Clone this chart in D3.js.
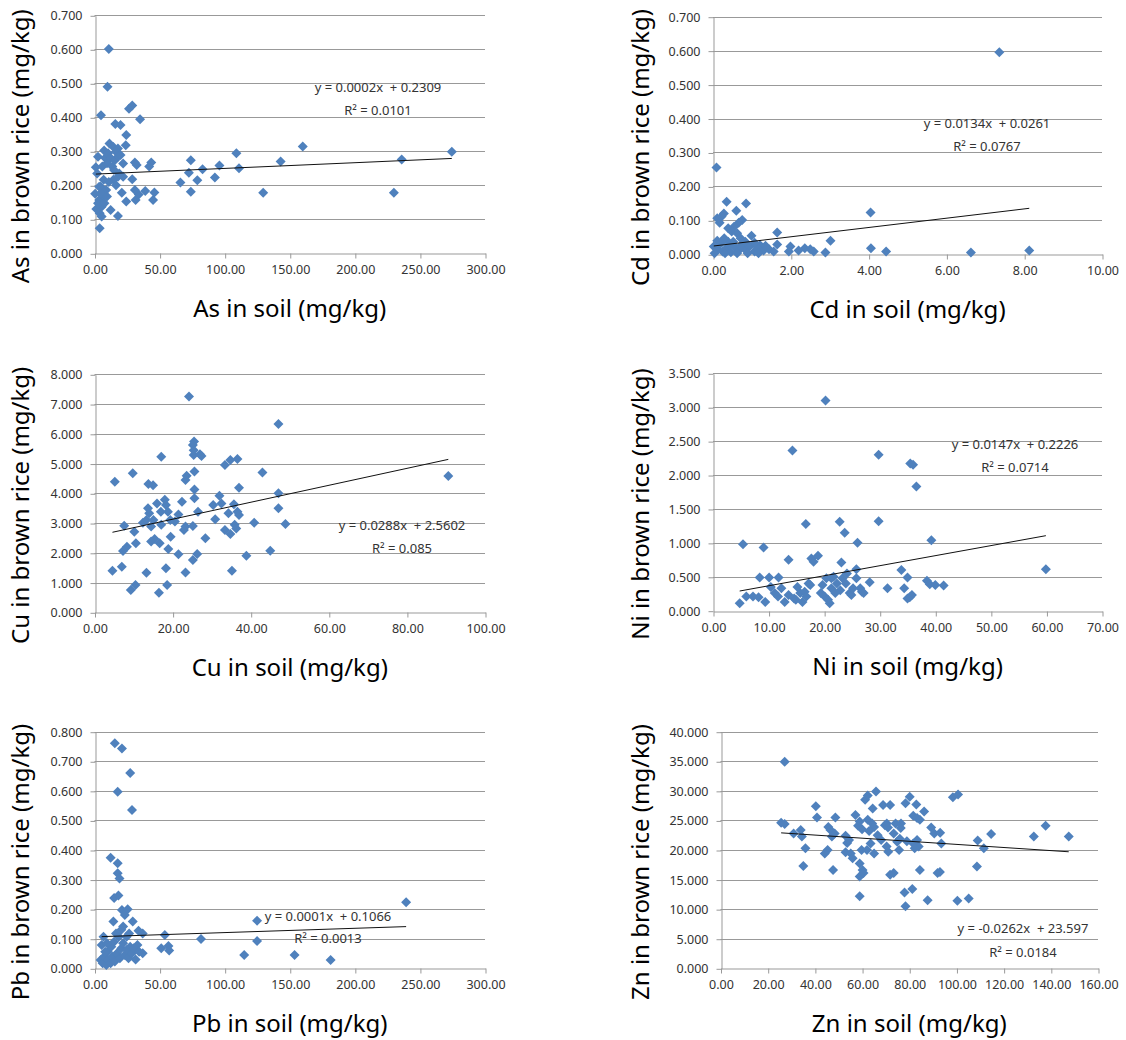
<!DOCTYPE html>
<html lang="en">
<head>
<meta charset="UTF-8">
<title>Heavy metals: soil vs brown rice</title>
<script src="https://d3js.org/d3.v7.min.js"></script>
<style>
  body { margin: 0; background: #fff; }
  svg text { font-family: "Noto Sans", "Noto Sans CJK KR", sans-serif; }
  .tick text { font-size: 12.5px; fill: #333; }
  .eq { font-size: 13px; fill: #333; white-space: pre; }
  .title { font-size: 24px; fill: #000; }
</style>
</head>
<body>
<div id="chart"></div>
<script>
// ---- data: [soil, brown rice] in mg/kg ----
const asData = [[11,0.601],[10,0.49],[5,0.406],[26.5,0.425],[29,0.435],[35,0.394],[16,0.38],[20,0.377],[24.4,0.348],[24,0.318],[7.4,0.302],[11.5,0.323],[14.5,0.313],[18,0.308],[160,0.314],[274.5,0.299],[109,0.294],[143,0.27],[236,0.276],[74,0.274],[96,0.258],[111,0.25],[83,0.247],[72.5,0.237],[66,0.208],[79,0.215],[92.5,0.223],[74,0.181],[129.6,0.178],[230,0.178],[43.6,0.267],[42,0.255],[31,0.267],[32.4,0.26],[22,0.264],[46,0.179],[45,0.157],[39,0.183],[34,0.173],[31,0.186],[31.6,0.157],[24.4,0.152],[29,0.218],[21,0.178],[18,0.11],[12.4,0.127],[4,0.074],[0.5,0.175],[1,0.253],[2,0.235],[2.7,0.284],[3.6,0.157],[4,0.118],[5.5,0.137],[7,0.167],[4.7,0.196],[7,0.216],[6,0.255],[8.2,0.28],[9.6,0.265],[10.4,0.294],[12.4,0.28],[13.7,0.255],[15.6,0.274],[16.5,0.299],[18,0.284],[15,0.245],[14.5,0.216],[16.5,0.2],[18,0.225],[19,0.235],[22,0.225],[20,0.289],[9,0.186],[11,0.21],[1.4,0.13],[2.7,0.147],[5.5,0.108],[3.6,0.196],[4.7,0.176],[7.7,0.147],[9.6,0.167]];
const cdData = [[7.36,0.595],[0.09,0.256],[0.35,0.155],[0.85,0.15],[0.6,0.128],[4.05,0.123],[0.28,0.12],[0.11,0.106],[0.17,0.093],[0.22,0.111],[0.75,0.101],[0.66,0.093],[0.54,0.081],[0.39,0.077],[0.48,0.067],[0.62,0.062],[0.99,0.055],[1.65,0.064],[0.71,0.047],[3.02,0.04],[1.99,0.023],[1.65,0.029],[1.21,0.027],[4.06,0.018],[2.36,0.018],[2.59,0.008],[2.2,0.011],[2.89,0.005],[4.45,0.008],[6.63,0.005],[8.13,0.011],[0.02,0.023],[0.11,0.015],[0.2,0.032],[0.25,0.008],[0.34,0.018],[0.39,0.037],[0.46,0.006],[0.57,0.021],[0.66,0.011],[0.77,0.027],[0.84,0.013],[0.94,0.023],[1.07,0.008],[1.14,0.018],[1.3,0.011],[1.44,0.015],[1.56,0.008],[0.11,0.04],[0.29,0.047],[0.52,0.037],[0.71,0.025],[0.83,0.037],[1.07,0.034],[0.31,0.003],[0.43,0.027],[0.04,0.003],[0.62,0.003],[0.89,0.003],[1.17,0.003],[1.35,0.025],[1.95,0.008],[2.5,0.015]];
const cuData = [[24.2,7.25],[47.1,6.33],[90.6,4.58],[25.5,5.74],[25.2,5.62],[25.4,5.29],[27,5.31],[27.4,5.25],[17.1,5.23],[25.4,5.45],[9.8,4.67],[5.2,4.39],[13.8,4.31],[15,4.27],[23.6,4.59],[23.3,4.45],[25.6,4.73],[25.6,4.13],[33.4,4.95],[34.8,5.12],[36.6,5.15],[43,4.7],[37,4.19],[47.1,4.0],[47.1,3.5],[48.9,2.97],[40.9,3.01],[45,2.07],[38.9,1.9],[35.2,1.4],[33.4,2.77],[34.8,2.63],[30.9,3.13],[30.4,3.61],[32,3.92],[32.5,3.66],[35.7,3.63],[36.6,3.38],[37,3.27],[35.9,2.94],[36.3,2.82],[34.3,3.33],[28.4,2.49],[26.5,3.38],[25.6,3.83],[22.4,3.72],[21.5,3.29],[23.3,2.88],[25.2,2.9],[22.9,2.77],[21.5,1.95],[23.3,1.34],[25.2,1.76],[26.3,1.96],[19.5,2.54],[18.9,2.13],[18.3,1.48],[18.6,0.92],[16.5,0.66],[16.7,2.32],[15.4,2.46],[14.5,2.38],[13.3,1.33],[10.6,2.32],[10.2,2.71],[8.3,2.2],[7.3,2.06],[7.6,2.91],[7.0,1.53],[4.6,1.4],[9.3,0.75],[10.5,0.92],[12.4,3.01],[13.3,3.1],[14,3.33],[13.7,3.5],[14.5,2.88],[16,3.66],[17,3.38],[17.1,2.94],[18,3.78],[18.3,3.61],[18.8,3.38],[19.4,3.1],[20.6,3.05],[15.1,3.1]];
const niData = [[20.25,3.1],[14.3,2.36],[29.8,2.3],[35.5,2.17],[36,2.15],[36.6,1.83],[16.7,1.28],[22.8,1.31],[29.8,1.32],[23.7,1.15],[26,1.0],[39.3,1.04],[5.4,0.98],[9.1,0.93],[13.6,0.75],[18.9,0.81],[17.7,0.77],[18.1,0.72],[23.1,0.71],[59.9,0.61],[33.9,0.6],[35,0.49],[25.8,0.61],[28.2,0.42],[31.4,0.33],[34.4,0.33],[38.5,0.44],[39,0.39],[40,0.38],[41.5,0.37],[35.4,0.2],[35.8,0.23],[35,0.18],[8.4,0.49],[10.1,0.49],[11.8,0.49],[4.8,0.11],[6,0.21],[7.2,0.21],[8.2,0.2],[9.4,0.13],[10.4,0.35],[11.1,0.26],[11.7,0.21],[12.3,0.33],[12.9,0.13],[13.6,0.23],[14.6,0.18],[15.2,0.35],[15.7,0.26],[16.1,0.13],[16.5,0.28],[17.2,0.4],[17.5,0.38],[19.4,0.26],[19.7,0.38],[20.1,0.21],[20.4,0.48],[20.7,0.16],[21,0.11],[21.3,0.33],[21.7,0.5],[22,0.26],[22.3,0.4],[22.9,0.3],[23.3,0.48],[23.9,0.4],[24.1,0.55],[24.6,0.26],[24.9,0.23],[25.2,0.33],[25.8,0.48],[26.5,0.33],[26.8,0.28],[27.1,0.26],[21.3,0.48],[14.9,0.16],[16.8,0.21]];
const pbData = [[15.6,0.761],[21.1,0.743],[27.4,0.66],[17.8,0.597],[28.8,0.535],[12.4,0.374],[17.8,0.355],[17.8,0.321],[19.2,0.304],[15.1,0.238],[18.4,0.246],[21.1,0.197],[25.5,0.2],[23.3,0.18],[29.4,0.158],[14.5,0.158],[22,0.141],[124.9,0.161],[239.4,0.223],[54,0.113],[81.8,0.099],[124.9,0.092],[51.3,0.068],[56.8,0.075],[57.4,0.06],[115,0.045],[153.7,0.045],[181.4,0.028],[37,0.118],[33.8,0.127],[6.9,0.107],[5.5,0.079],[37,0.051],[31.6,0.03],[4.7,0.028],[6.3,0.017],[7.4,0.039],[9.1,0.011],[10.2,0.056],[11,0.028],[12.4,0.017],[12.9,0.073],[13.7,0.039],[15.1,0.09],[15.6,0.023],[17.3,0.051],[18.7,0.107],[19.5,0.034],[20.6,0.068],[22,0.085],[23.3,0.045],[24.7,0.062],[26.1,0.034],[27.4,0.073],[28.8,0.051],[30.2,0.068],[33,0.079],[34.3,0.056],[24.7,0.107],[26.6,0.118],[16.5,0.118],[20.6,0.13],[9.6,0.085],[8.2,0.056]];
const znData = [[27.2,34.9],[25.7,24.6],[27.2,24.4],[31,22.8],[34,23.4],[34.5,22.3],[36,20.3],[35.1,17.3],[40.4,27.4],[40.9,25.5],[44.2,19.4],[45.4,20],[45.7,23.9],[46.6,23.4],[47.2,22.3],[48.4,22.8],[47.7,16.6],[48.7,25.5],[53,22.4],[53.7,21.2],[54.5,21.7],[53,19.6],[55.2,19.4],[56,18.6],[57.2,25.9],[58.3,24.1],[59,24.8],[59.8,20],[59,17.7],[60.2,16.6],[59,15.5],[60.6,16.1],[59,12.2],[61.3,28.5],[62.4,29.2],[65.9,29.9],[64.5,27],[68.9,27.6],[71.9,27.6],[62.4,25.1],[64.3,24.5],[65.1,23.9],[62.1,20],[65.1,19.4],[69.7,24.2],[76.5,24.5],[73.4,16.1],[71.9,15.8],[78.4,27.9],[80.2,29],[83,27.7],[81.7,25.8],[83.3,25.4],[84.5,25.1],[86.3,26.5],[78,12.8],[81.3,13.4],[78.4,10.5],[87.8,11.5],[84.5,16.6],[83.3,21.7],[81.7,21.1],[84,20.6],[82.3,20.3],[89.3,23.8],[90.6,22.8],[93.1,22.9],[93.6,21.1],[92,16.1],[93,16.3],[98.5,28.9],[100.7,29.4],[100.4,11.4],[105.2,11.8],[109,21.6],[111.6,20.3],[108.7,17.2],[114.7,22.7],[132.8,22.3],[137.8,24.1],[147.6,22.3],[75.7,20],[74.9,21.4],[73.4,22.8],[71.1,19.7],[70.4,20.6],[68.1,21.7],[66.6,22.5],[63.6,21.1],[76.4,23.7],[74.2,24.5],[70.5,24.5],[71,23.8],[76,21.9],[79,21.5],[60,23.5],[63,23.2]];

// linear trend lines, end points
const asTrend = [[1,0.233],[274.5,0.279]];
const cdTrend = [[0.02,0.0245],[8.13,0.1355]];
const cuTrend = [[4.6,2.69],[90.6,5.14]];
const niTrend = [[4.8,0.29],[59.9,1.106]];
const pbTrend = [[5.5,0.107],[239.4,0.141]];
const znTrend = [[25.7,22.9],[147.6,19.7]];

// axis ranges: [max, step]
const xAxes = { As: [300, 50], Cd: [10, 2], Cu: [100, 20], Ni: [70, 10], Pb: [300, 50], Zn: [160, 20] };
const yAxes = { As: [0.7, 0.1], Cd: [0.7, 0.1], Cu: [8, 1], Ni: [3.5, 0.5], Pb: [0.8, 0.1], Zn: [40, 5] };

const equations = {
  As: ["y = 0.0002x  + 0.2309", "R² = 0.0101"],
  Cd: ["y = 0.0134x  + 0.0261", "R² = 0.0767"],
  Cu: ["y = 0.0288x  + 2.5602", "R² = 0.085"],
  Ni: ["y = 0.0147x  + 0.2226", "R² = 0.0714"],
  Pb: ["y = 0.0001x  + 0.1066", "R² = 0.0013"],
  Zn: ["y = -0.0262x  + 23.597", "R² = 0.0184"]
};

// ---- layout (pixels) ----
const panels = [
  { el: "As", data: asData, trend: asTrend, L: 94.5, R: 485, T: 15.3, B: 253.3, tx: 21, eq: [378, 92, 115] },
  { el: "Cd", data: cdData, trend: cdTrend, L: 713, R: 1102, T: 16.7, B: 254.3, tx: 641, eq: [987, 128, 151] },
  { el: "Cu", data: cuData, trend: cuTrend, L: 94.5, R: 485, T: 374.3, B: 612.3, tx: 21, eq: [402, 530, 553] },
  { el: "Ni", data: niData, trend: niTrend, L: 713, R: 1102, T: 373.3, B: 610.7, tx: 641, eq: [1015, 449, 472] },
  { el: "Pb", data: pbData, trend: pbTrend, L: 94.5, R: 485, T: 731.7, B: 968.3, tx: 21, eq: [328, 921, 943] },
  { el: "Zn", data: znData, trend: znTrend, L: 720.5, R: 1098, T: 731.7, B: 968.3, tx: 641, eq: [1023, 933, 957] }
];

const width = 1126, height = 1040;
const svg = d3.select("#chart").append("svg")
  .attr("width", width)
  .attr("height", height);
svg.append("rect").attr("width", width).attr("height", height).attr("fill", "#fff");

const gridColor = "#999";
const markColor = "#4f81bd";
const diamond = d3.symbol().type(d3.symbolSquare).size(50);

panels.forEach(p => {
  const [xMax, xStep] = xAxes[p.el];
  const [yMax, yStep] = yAxes[p.el];
  const x = d3.scaleLinear().domain([0, xMax]).range([p.L, p.R]);
  const y = d3.scaleLinear().domain([0, yMax]).range([p.B, p.T]);
  const xTicks = d3.range(0, xMax + xStep / 2, xStep);
  const yTicks = d3.range(0, yMax + yStep / 2, yStep);

  const g = svg.append("g");

  // horizontal gridlines
  g.append("g").selectAll("line")
    .data(yTicks.slice(1))
    .join("line")
    .attr("x1", p.L).attr("x2", p.R)
    .attr("y1", d => Math.round(y(d)) + 0.5).attr("y2", d => Math.round(y(d)) + 0.5)
    .attr("stroke", gridColor).attr("stroke-width", 1);

  // axes
  const yAxis = g.append("g")
    .attr("transform", `translate(${Math.round(p.L) + 0.5},0.5)`)
    .call(d3.axisLeft(y).tickValues(yTicks).tickSize(5).tickSizeOuter(0).tickPadding(8)
      .tickFormat(d3.format(".3f")));
  const xAxis = g.append("g")
    .attr("transform", `translate(0.5,${Math.round(p.B) + 0.5})`)
    .call(d3.axisBottom(x).tickValues(xTicks).tickSize(5).tickSizeOuter(0).tickPadding(7)
      .tickFormat(d3.format(".2f")));
  [xAxis, yAxis].forEach(a => {
    a.select(".domain").attr("stroke", gridColor);
    a.selectAll(".tick line").attr("stroke", gridColor);
    a.attr("font-family", null).attr("font-size", null);
  });

  // points
  g.append("g").selectAll("path")
    .data(p.data)
    .join("path")
    .attr("d", diamond)
    .attr("transform", d => `translate(${x(d[0])},${y(d[1])}) rotate(45)`)
    .attr("fill", markColor);

  // trend line
  g.append("line")
    .attr("x1", x(p.trend[0][0])).attr("y1", y(p.trend[0][1]))
    .attr("x2", x(p.trend[1][0])).attr("y2", y(p.trend[1][1]))
    .attr("stroke", "#111").attr("stroke-width", 1);

  // equation
  const [ex, ey1, ey2] = p.eq;
  g.append("text").attr("class", "eq").attr("x", ex).attr("y", ey1)
    .attr("text-anchor", "middle").text(equations[p.el][0]);
  g.append("text").attr("class", "eq").attr("x", ex).attr("y", ey2)
    .attr("text-anchor", "middle").text(equations[p.el][1]);

  // axis titles
  g.append("text").attr("class", "title")
    .attr("x", (p.L + p.R) / 2).attr("y", p.B + 64)
    .attr("text-anchor", "middle")
    .text(`${p.el} in soil (mg/kg)`);
  g.append("text").attr("class", "title")
    .attr("transform", `translate(${p.tx + 8},${(p.T + p.B) / 2 + 12}) rotate(-90)`)
    .attr("text-anchor", "middle")
    .text(`${p.el} in brown rice (mg/kg)`);
});
</script>
</body>
</html>
